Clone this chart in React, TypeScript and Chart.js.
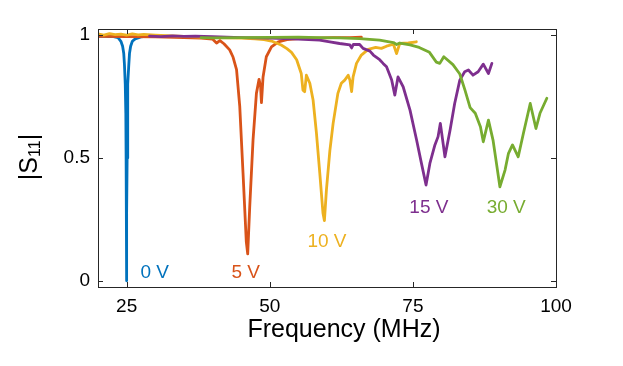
import React, { useEffect, useRef } from "react";
import { Chart, registerables } from "chart.js";
Chart.register(...registerables);

const xTicks = [25, 50, 75, 100];
const yTicks = [0, 0.5, 1];
const seriesNames = ["0 V", "5 V", "10 V", "15 V", "30 V"];
const colors = ["#0072BD", "#D95319", "#EDB120", "#7E2F8E", "#77AC30"];
const labelX = [29.9, 45.8, 60.0, 77.8, 91.3];
const labelY = [0.033, 0.033, 0.16, 0.298, 0.298];

const f0 = [20, 21, 22, 22.5, 23.5, 24.0, 24.3, 24.5, 24.62, 24.76, 24.86, 24.91, 24.95, 24.98, 25.0, 25.02, 25.05, 25.09, 25.14, 25.24, 25.38, 25.5, 25.7, 26.0, 26.5, 27.5, 28.5, 30];
const s0 = [0.995, 0.996, 0.994, 0.995, 0.99, 0.975, 0.955, 0.925, 0.88, 0.8, 0.68, 0.5, 0.28, 0.1, 0.0, 0.1, 0.28, 0.5, 0.68, 0.8, 0.88, 0.925, 0.955, 0.975, 0.985, 0.993, 0.995, 0.995];

const f5 = [20, 25, 30, 35, 38, 40, 40.7, 41.3, 42, 43, 43.6, 44.2, 44.76, 45.33, 45.9, 46.15, 46.5, 47.08, 47.67, 48.13, 48.4, 48.55, 48.7, 48.83, 49.4, 50.3, 51.5, 53, 55, 58, 61, 64, 66];
const s5 = [0.995, 0.994, 0.993, 0.99, 0.988, 0.984, 0.968, 0.978, 0.965, 0.94, 0.91, 0.86, 0.71, 0.44, 0.16, 0.11, 0.3, 0.573, 0.763, 0.82, 0.79, 0.725, 0.78, 0.83, 0.912, 0.952, 0.973, 0.982, 0.986, 0.988, 0.99, 0.99, 0.992];

const f10 = [20, 21, 22, 23, 24, 25, 26, 27, 28, 30, 35, 40, 45, 47.4, 49, 50.3, 52, 53, 53.8, 54.7, 55.5, 55.8, 56.1, 56.4, 57.0, 57.57, 58.16, 58.74, 59.3, 59.55, 59.9, 60.5, 61.07, 61.9, 62.5, 63.1, 63.7, 64.0, 64.3, 64.56, 65.15, 66.0, 67.2, 68.5, 69.5, 70.4, 71.6, 72.15, 72.7, 74.2, 75.6];
const s10 = [1.005, 1.0, 1.006, 1.002, 1.004, 1.0, 1.005, 1.001, 1.003, 1.0, 0.995, 0.99, 0.988, 0.985, 0.982, 0.976, 0.96, 0.945, 0.93, 0.9, 0.844, 0.776, 0.77, 0.837, 0.804, 0.736, 0.6, 0.438, 0.275, 0.245, 0.37, 0.53, 0.641, 0.763, 0.804, 0.817, 0.837, 0.817, 0.77, 0.83, 0.885, 0.919, 0.942, 0.95, 0.946, 0.955, 0.963, 0.925, 0.966, 0.968, 0.973];

const f15 = [29, 31, 33, 35, 37, 40, 45, 50, 54, 58.7, 60.5, 62.2, 64.0, 64.3, 64.6, 65.7, 66.3, 67.5, 68.1, 69.2, 69.8, 70.4, 71.3, 71.85, 72.4, 73.3, 74.5, 75.65, 76.5, 77.3, 77.97, 78.85, 79.4, 79.8, 80.6, 81.5, 82.3, 83.2, 84.05, 84.7, 85.5, 86.4, 87.3, 88.2, 88.8];
const s15 = [0.996, 0.994, 0.997, 0.995, 0.996, 0.994, 0.99, 0.988, 0.985, 0.98, 0.973, 0.966, 0.96, 0.948, 0.962, 0.962, 0.946, 0.935, 0.919, 0.9, 0.885, 0.871, 0.817, 0.756, 0.83, 0.79, 0.695, 0.573, 0.478, 0.39, 0.478, 0.553, 0.587, 0.641, 0.505, 0.614, 0.722, 0.817, 0.851, 0.858, 0.837, 0.851, 0.882, 0.844, 0.885];

const f30 = [38, 40, 45, 50, 55, 58.7, 62.2, 65.7, 69.2, 71.6, 72.15, 72.7, 74.5, 76.1, 77.9, 79.1, 79.7, 80.4, 82.0, 83.2, 84.1, 85.0, 85.9, 86.8, 87.3, 88.2, 89.0, 89.6, 90.2, 91.1, 91.7, 92.4, 93.4, 94.3, 95.5, 96.5, 97.2, 98.4];
const s30 = [0.99, 0.989, 0.99, 0.991, 0.992, 0.99, 0.989, 0.986, 0.98, 0.97, 0.962, 0.968, 0.96, 0.95, 0.93, 0.89, 0.885, 0.912, 0.88, 0.842, 0.776, 0.705, 0.682, 0.627, 0.566, 0.654, 0.573, 0.478, 0.383, 0.451, 0.519, 0.553, 0.505, 0.6, 0.722, 0.62, 0.682, 0.743];

const freqs = [f0, f5, f10, f15, f30];
const values = [s0, s5, s10, s15, s30];

const FONT = '"Liberation Sans", Arial, Helvetica, sans-serif';

const overlay = {
  id: "overlay",
  afterDraw(chart: any) {
    const { ctx, chartArea, scales } = chart;
    const { left, right, top, bottom } = chartArea;
    const xs = scales.x;
    const ys = scales.y;
    ctx.save();
    ctx.strokeStyle = "#262626";
    ctx.lineWidth = 1;
    ctx.strokeRect(Math.round(left) + 0.5, Math.round(top) + 0.5, Math.round(right - left), Math.round(bottom - top));
    const tl = 5;
    ctx.beginPath();
    xTicks.forEach((v) => {
      const px = Math.round(xs.getPixelForValue(v)) + 0.5;
      ctx.moveTo(px, bottom);
      ctx.lineTo(px, bottom - tl);
      ctx.moveTo(px, top);
      ctx.lineTo(px, top + tl);
    });
    yTicks.forEach((v) => {
      const py = Math.round(ys.getPixelForValue(v)) + 0.5;
      ctx.moveTo(left, py);
      ctx.lineTo(left + tl, py);
      ctx.moveTo(right, py);
      ctx.lineTo(right - tl, py);
    });
    ctx.stroke();

    ctx.font = `19px ${FONT}`;
    ctx.textAlign = "center";
    ctx.textBaseline = "middle";
    seriesNames.forEach((n, i) => {
      ctx.fillStyle = colors[i];
      ctx.fillText(n, xs.getPixelForValue(labelX[i]), ys.getPixelForValue(labelY[i]));
    });

    ctx.fillStyle = "#000";
    ctx.font = `25px ${FONT}`;
    ctx.textAlign = "center";
    ctx.textBaseline = "alphabetic";
    ctx.fillText("Frequency (MHz)", 344, 337);

    ctx.translate(30, 157);
    ctx.rotate(-Math.PI / 2);
    ctx.textAlign = "left";
    ctx.textBaseline = "middle";
    ctx.font = `25px ${FONT}`;
    const a = ctx.measureText("|S").width;
    const c = ctx.measureText("|").width;
    ctx.font = `16px ${FONT}`;
    const b = ctx.measureText("11").width;
    let x0 = -(a + b + c) / 2;
    ctx.font = `25px ${FONT}`;
    ctx.fillText("|S", x0, 0);
    ctx.font = `16px ${FONT}`;
    ctx.fillText("11", x0 + a, 6);
    ctx.font = `25px ${FONT}`;
    ctx.fillText("|", x0 + a + b, 0);
    ctx.restore();
  },
};

export default function App() {
  const ref = useRef<HTMLCanvasElement>(null);
  useEffect(() => {
    if (!ref.current) return;
    const chart = new Chart(ref.current, {
      type: "line",
      data: {
        datasets: freqs.map((fs, i) => ({
          label: seriesNames[i],
          data: fs.map((f, j) => ({ x: f, y: values[i][j] })),
          borderColor: colors[i],
          backgroundColor: colors[i],
          borderWidth: 2.8,
          pointRadius: 0,
          tension: 0,
          fill: false,
          borderJoinStyle: "round",
          borderCapStyle: "round",
          order: 4 - i,
        })),
      },
      options: {
        responsive: false,
        animation: false,
        events: [],
        layout: { padding: { top: 29, right: 67, left: 0, bottom: 0 } },
        plugins: { legend: { display: false }, tooltip: { enabled: false } },
        scales: {
          x: {
            type: "linear",
            min: 20,
            max: 100,
            grid: { display: false, drawTicks: false },
            border: { display: false },
            ticks: { font: { family: FONT, size: 19 }, color: "#000", padding: 8, maxRotation: 0, autoSkip: false },
            afterBuildTicks: (s: any) => {
              s.ticks = xTicks.map((v) => ({ value: v }));
            },
            afterFit: (s: any) => {
              s.height = 79;
            },
          },
          y: {
            type: "linear",
            min: -0.025,
            max: 1.025,
            grid: { display: false, drawTicks: false },
            border: { display: false },
            ticks: {
              font: { family: FONT, size: 19 },
              color: "#000",
              padding: 8,
              autoSkip: false,
              callback: (v: any) => String(v),
            },
            afterBuildTicks: (s: any) => {
              s.ticks = yTicks.map((v) => ({ value: v }));
            },
            afterFit: (s: any) => {
              s.width = 98;
            },
          },
        },
      },
      plugins: [overlay],
    });
    return () => chart.destroy();
  }, []);
  return (
    <canvas
      ref={ref}
      width={623}
      height={366}
      style={{ position: "fixed", left: 0, top: 0, width: 623, height: 366, background: "#fff" }}
    />
  );
}
